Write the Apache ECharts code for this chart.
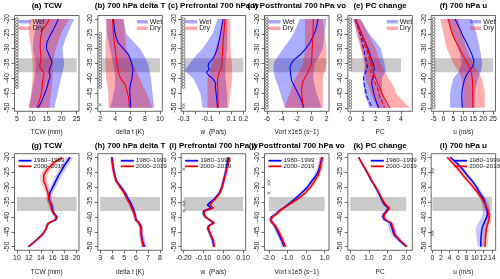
<!DOCTYPE html>
<html><head><meta charset="utf-8">
<script src="https://cdn.jsdelivr.net/npm/echarts@6/dist/echarts.min.js"></script>
<style>html,body{margin:0;padding:0;background:#fff}#c{width:500px;height:279px}</style>
</head><body><div id="c"></div>
<script>
// ---------- DATA ----------
const LAT  = [-20,-22,-24,-26,-28,-30,-32,-34,-35,-36,-37,-38,-39,-40,-41,-42,-43,-44,-46,-48,-50];
const LATB = [-20,-22.5,-25,-27.5,-30,-32.5,-35,-37.5,-40,-42.5,-45,-47.5,-50];
const GRAY_LAT = [-33.3, -38.0];
const yTicks = [-50,-45,-40,-35,-30,-25,-20];

// (a) TCW
const aWet   = [18.9,18.0,17.0,15.9,15.0,14.9,15.7,16.6,16.7,16.3,15.9,15.8,16.1,16.0,15.6,15.4,15.1,14.8,14.0,13.2,12.2];
const aDry   = [15.9,14.8,13.4,13.0,12.8,12.8,13.0,13.1,12.8,12.6,13.3,14.0,14.1,13.8,13.6,13.5,13.4,13.4,13.0,12.4,11.7];
const aWetLo = [12,11.4,10.9,10.5,10.3,10.8,11.4,11.2,10.9,10.4,10,9.5,9];
const aWetHi = [24.2,23.0,22.0,21.0,20.3,20.5,20.9,20.4,19.8,19.2,18.7,18.1,17.6];
const aDryLo = [9.2,9.1,9.0,9.4,9.8,10.0,10.3,10.3,10.3,10.0,9.8,9.4,9.0];
const aDryHi = [22.6,21.0,19.8,18.9,18.1,17.5,17.0,17.0,17.0,16.7,16.4,16.1,15.9];
// (b) delta T
const bWet   = [3.75,3.85,3.95,4.1,4.4,5.1,5.8,6.1,6.2,6.3,6.4,6.35,6.3,6.25,6.15,6.05,6.0,5.95,6.0,6.05,6.1];
const bDry   = [3.65,3.7,3.75,3.82,3.9,4.0,4.1,4.2,4.25,4.3,4.4,4.45,4.55,4.75,5.0,5.3,5.45,5.55,5.75,5.85,5.9];
const bWetLo = [2.8,2.85,2.9,3.1,3.3,3.5,3.76,3.9,4.0,4.0,3.8,3.6,3.3];
const bWetHi = [5.1,5.3,5.5,6.4,7.3,7.9,8.4,8.6,8.8,8.9,9.0,9.1,9.25];
const bDryLo = [2.8,2.8,2.8,2.75,2.7,2.7,2.7,2.75,2.8,2.95,3.1,3.1,3.1];
const bDryHi = [5.1,5.2,5.3,5.4,5.5,5.9,6.4,6.8,7.3,7.7,8.2,8.6,9.0];
// (c) prefrontal w
const cWet   = [0.03,0.022,0.013,0.005,-0.007,-0.018,-0.035,-0.065,-0.09,-0.095,-0.085,-0.11,-0.09,-0.06,-0.04,-0.03,-0.035,-0.03,-0.025,-0.02,-0.016];
const cDry   = [0.046,0.043,0.039,0.035,0.031,0.028,0.025,0.022,0.021,0.019,0.012,0.0,-0.008,-0.014,-0.016,-0.015,-0.014,-0.013,-0.012,-0.011,-0.01];
const cWetLo = [-0.016,-0.035,-0.057,-0.1,-0.14,-0.2,-0.25,-0.29,-0.22,-0.19,-0.16,-0.15,-0.14];
const cWetHi = [0.065,0.065,0.065,0.065,0.065,0.058,0.05,0.05,0.05,0.058,0.065,0.065,0.065];
const cDryLo = [0.024,0.017,0.01,-0.01,-0.03,-0.045,-0.057,-0.08,-0.1,-0.1,-0.1,-0.1,-0.1];
const cDryHi = [0.092,0.092,0.092,0.092,0.092,0.098,0.105,0.105,0.105,0.1,0.092,0.085,0.078];
// (d) postfrontal vort
const dWet   = [0.86,0.7,0.5,0.15,-0.22,-0.8,-1.5,-2.45,-2.7,-2.9,-2.9,-2.85,-2.8,-2.75,-2.65,-2.45,-2.25,-2.05,-1.65,-1.3,-1.1];
const dDry   = [0.2,0.2,0.2,0.17,0.12,0.07,0.04,0.0,-0.03,-0.15,-0.33,-0.5,-0.72,-0.95,-1.15,-1.25,-1.3,-1.35,-1.3,-1.2,-1.1];
const dWetLo = [-1.58,-2.0,-2.46,-3.1,-3.8,-4.5,-5.1,-5.1,-4.9,-4.5,-4.2,-3.9,-3.6];
const dWetHi = [1.96,1.85,1.74,1.6,1.5,1.0,0.4,0.3,0.2,0.4,0.64,1.0,1.3];
const dDryLo = [-0.9,-0.9,-0.9,-0.9,-0.9,-1.0,-1.13,-1.6,-2.2,-2.6,-2.9,-3.3,-3.6];
const dDryHi = [1.5,1.6,1.74,1.85,1.96,1.96,1.96,1.75,1.5,1.5,1.5,1.5,1.5];
// (e) PC change
const eWet    = [0.4,0.6,0.8,1.0,1.2,1.4,1.55,1.7,1.8,1.85,1.9,1.8,1.9,1.75,1.7,1.7,1.75,1.8,1.9,2.05,2.25];
const eWetAlt = [0.4,0.55,0.7,0.85,0.95,1.05,1.15,1.25,1.3,1.35,1.3,1.2,1.1,1.05,1.05,1.1,1.15,1.2,1.3,1.5,1.75];
const eDry    = [0.4,0.6,0.8,1.0,1.2,1.35,1.5,1.65,1.7,1.8,1.85,1.8,1.9,2.0,2.1,2.2,2.3,2.4,2.6,2.85,3.1];
const eDryAlt = [0.4,0.55,0.75,0.95,1.1,1.25,1.4,1.55,1.6,1.65,1.7,1.6,1.7,1.8,1.9,2.0,2.1,2.2,2.3,2.5,2.7];
const eWetLo = [0.2,0.4,0.6,0.75,0.9,1.05,1.2,1.1,1.0,1.05,1.1,1.3,1.5];
const eWetHi = [0.8,1.15,1.5,2.0,2.4,2.55,2.7,2.8,2.5,2.5,2.5,2.7,3.0];
const eDryLo = [0.3,0.4,0.5,0.65,0.8,0.95,1.1,1.15,1.2,1.4,1.6,1.85,2.1];
const eDryHi = [0.8,1.1,1.4,1.7,2.0,2.2,2.4,2.7,3.0,3.4,3.6,4.1,4.7];
// (f) 700 hPa u
const fWet   = [5.8,7.3,8.7,10.0,11.6,13.0,14.3,15.3,15.2,14.7,13.7,12.5,11.6,10.9,10.4,10.0,9.7,9.4,9.2,9.3,9.5];
const fDry   = [2.5,3.2,3.9,5.0,6.5,8.0,9.6,11.3,12.0,12.8,13.4,13.9,14.3,14.5,14.6,14.7,14.7,14.7,14.7,14.7,14.7];
const fWetLo = [1.7,3.0,4.2,5.8,7.5,8.4,9.2,8.0,5.0,4.0,3.3,3.3,3.3];
const fWetHi = [14.2,15.5,16.7,17.5,18.3,19.0,19.5,19.0,17.5,16.6,15.8,15.8,15.8];
const fDryLo = [-1.7,-0.8,0.0,0.8,1.7,3.3,5.0,7.5,9.2,9.7,10.0,9.6,9.2];
const fDryHi = [7.5,8.3,9.2,10.4,11.7,13.3,15.0,17.2,19.2,20.2,20.8,20.8,20.8];

// (g) TCW by period
const gP1   = [18.9,18.2,17.6,17.0,16.5,16.0,15.5,15.4,15.5,15.8,15.9,16.0,16.3,16.7,16.5,15.4,15.0,14.9,14.2,13.1,11.9];
const gP1Lo = [18.3,17.7,17.1,16.5,16.0,15.6,15.1,15.0,15.1,15.4,15.5,15.7,15.9,16.4,16.2,15.1,14.8,14.7,14.0,12.9,11.7];
const gP1Hi = [19.5,18.8,18.2,17.6,17.0,16.5,16.0,15.8,15.9,16.2,16.3,16.3,16.6,17.0,16.8,15.7,15.2,15.1,14.4,13.3,12.1];
const gP2   = [17.6,16.1,15.1,14.5,14.5,14.9,15.2,15.4,15.5,15.7,15.8,15.9,16.2,16.6,16.4,15.3,15.0,14.9,14.3,13.2,12.0];
const gP2Lo = [17.0,15.5,14.5,13.9,13.9,14.4,14.8,15.0,15.1,15.3,15.4,15.6,15.9,16.3,16.1,15.0,14.8,14.7,14.1,13.0,11.8];
const gP2Hi = [18.2,16.7,15.7,15.1,15.1,15.4,15.6,15.8,15.9,16.1,16.2,16.2,16.5,16.9,16.7,15.6,15.2,15.1,14.5,13.4,12.2];
// (h) delta T by period
const hP1   = [4.0,4.05,4.12,4.22,4.35,4.75,5.1,5.35,5.5,5.62,5.73,5.82,5.9,5.95,6.0,6.25,6.4,6.43,6.45,6.55,6.7];
const hP1Lo = [3.88,3.93,4.0,4.1,4.22,4.6,4.95,5.2,5.35,5.47,5.58,5.67,5.75,5.8,5.85,6.1,6.25,6.28,6.28,6.35,6.45];
const hP1Hi = [4.12,4.17,4.24,4.34,4.5,4.9,5.25,5.5,5.65,5.77,5.88,5.97,6.05,6.1,6.15,6.4,6.55,6.6,6.65,6.78,6.95];
const hP2   = [3.95,4.0,4.08,4.18,4.35,4.65,5.0,5.25,5.4,5.52,5.63,5.75,5.85,5.9,5.98,6.2,6.35,6.4,6.42,6.5,6.6];
const hP2Lo = [3.84,3.88,3.96,4.05,4.2,4.5,4.85,5.1,5.25,5.37,5.48,5.6,5.7,5.75,5.83,6.05,6.2,6.25,6.27,6.35,6.45];
const hP2Hi = [4.06,4.12,4.2,4.3,4.5,4.8,5.15,5.4,5.55,5.67,5.78,5.9,6.0,6.05,6.13,6.35,6.5,6.55,6.57,6.65,6.75];
// (i) prefrontal w by period
const iP1   = [0.024,0.02,0.015,0.008,0.0,-0.007,-0.02,-0.045,-0.065,-0.08,-0.062,-0.1,-0.1,-0.092,-0.07,-0.05,-0.075,-0.078,-0.065,-0.053,-0.048];
const iP1Lo = [0.016,0.012,0.007,0.0,-0.008,-0.015,-0.028,-0.053,-0.073,-0.088,-0.07,-0.108,-0.108,-0.1,-0.078,-0.058,-0.083,-0.086,-0.073,-0.061,-0.056];
const iP1Hi = [0.032,0.028,0.023,0.016,0.008,0.001,-0.012,-0.037,-0.057,-0.072,-0.054,-0.092,-0.092,-0.084,-0.062,-0.042,-0.067,-0.07,-0.057,-0.045,-0.04];
const iP2   = [0.03,0.025,0.018,0.01,0.002,-0.005,-0.017,-0.04,-0.055,-0.068,-0.05,-0.095,-0.097,-0.09,-0.068,-0.045,-0.072,-0.076,-0.063,-0.05,-0.045];
const iP2Lo = [0.022,0.017,0.01,0.002,-0.006,-0.013,-0.025,-0.048,-0.063,-0.076,-0.058,-0.103,-0.105,-0.098,-0.076,-0.053,-0.08,-0.084,-0.071,-0.058,-0.053];
const iP2Hi = [0.038,0.033,0.026,0.018,0.01,0.003,-0.009,-0.032,-0.047,-0.06,-0.042,-0.087,-0.089,-0.082,-0.06,-0.037,-0.064,-0.068,-0.055,-0.042,-0.037];
// (j) postfrontal vort by period
const jP1   = [0.85,0.78,0.7,0.55,0.3,0.08,-0.25,-0.6,-0.8,-1.0,-1.2,-1.45,-1.6,-1.85,-1.9,-1.8,-1.68,-1.6,-1.45,-1.3,-1.18];
const jP1Lo = [0.72,0.66,0.58,0.43,0.18,-0.04,-0.37,-0.72,-0.92,-1.12,-1.32,-1.57,-1.72,-1.97,-2.02,-1.92,-1.8,-1.72,-1.57,-1.42,-1.3];
const jP1Hi = [0.98,0.9,0.82,0.67,0.42,0.2,-0.13,-0.48,-0.68,-0.88,-1.08,-1.33,-1.48,-1.73,-1.78,-1.68,-1.56,-1.48,-1.33,-1.18,-1.06];
const jP2   = [0.88,0.8,0.75,0.65,0.45,0.25,-0.05,-0.45,-0.7,-0.95,-1.2,-1.42,-1.58,-1.8,-1.9,-1.82,-1.65,-1.55,-1.38,-1.25,-1.1];
const jP2Lo = [0.76,0.68,0.63,0.53,0.33,0.13,-0.17,-0.57,-0.82,-1.07,-1.32,-1.54,-1.7,-1.92,-2.02,-1.94,-1.77,-1.67,-1.5,-1.37,-1.22];
const jP2Hi = [1.0,0.92,0.87,0.77,0.57,0.37,0.07,-0.33,-0.58,-0.83,-1.08,-1.3,-1.46,-1.68,-1.78,-1.7,-1.53,-1.43,-1.26,-1.13,-0.98];
// (k) PC change by period
const kP1   = [0.45,0.62,0.8,0.98,1.15,1.35,1.52,1.67,1.75,1.85,2.05,1.95,1.8,1.75,1.85,2.15,2.2,2.25,2.35,2.65,3.0];
const kP1Lo = [0.42,0.58,0.75,0.92,1.09,1.28,1.45,1.6,1.67,1.76,1.95,1.84,1.69,1.63,1.72,2.0,2.03,2.07,2.2,2.55,2.93];
const kP1Hi = [0.48,0.66,0.85,1.04,1.21,1.42,1.59,1.74,1.83,1.94,2.15,2.06,1.91,1.87,1.98,2.3,2.37,2.43,2.5,2.75,3.07];
const kP2   = [0.45,0.63,0.82,1.0,1.17,1.37,1.55,1.7,1.8,1.92,2.1,2.0,1.85,1.8,1.9,2.2,2.25,2.3,2.4,2.7,3.05];
const kP2Lo = [0.42,0.59,0.77,0.94,1.11,1.3,1.48,1.62,1.71,1.82,2.0,1.9,1.75,1.7,1.8,2.1,2.15,2.2,2.3,2.6,2.97];
const kP2Hi = [0.48,0.67,0.87,1.06,1.23,1.44,1.62,1.78,1.89,2.02,2.2,2.1,1.95,1.9,2.0,2.3,2.35,2.4,2.5,2.8,3.13];
// (l) 700 hPa u by period
const lP1   = [4.2,5.8,7.1,8.2,9.4,10.4,11.2,12.1,12.3,12.5,12.7,12.9,13.0,12.8,12.5,12.2,11.9,11.65,11.5,11.4,11.4];
const lP1Lo = [3.8,5.3,6.6,7.7,8.9,9.9,10.7,11.5,11.6,11.7,11.8,11.9,11.9,11.6,11.2,10.8,10.5,10.2,10.3,10.5,10.7];
const lP1Hi = [4.6,6.3,7.6,8.7,9.9,10.9,11.7,12.7,13.0,13.3,13.5,13.7,13.8,13.7,13.5,13.3,13.1,12.9,12.6,12.2,12.1];
const lP2   = [3.5,4.8,6.1,7.2,8.4,9.6,10.7,11.7,12.1,12.5,12.8,13.1,13.3,13.4,13.3,13.1,12.9,12.7,12.55,12.45,12.4];
const lP2Lo = [3.1,4.3,5.6,6.7,7.9,9.1,10.2,11.2,11.6,12.0,12.3,12.6,12.7,12.8,12.7,12.5,12.3,12.1,11.9,11.8,11.7];
const lP2Hi = [3.9,5.3,6.6,7.7,8.9,10.1,11.2,12.2,12.6,13.0,13.3,13.6,13.9,14.0,13.9,13.7,13.5,13.3,13.2,13.1,13.1];

// significance markers (latitudes)
const sigAo = [-20,-21,-22,-23,-24,-25,-26,-27,-28,-29,-30,-31,-32,-33,-34,-35,-36,-37,-38,-39,-40,-41,-42,-43];
const sigBo = [-25,-26,-27,-28,-29,-30,-31,-32,-33,-34,-35,-36,-37,-38,-39,-40,-41,-42,-43];
const sigBx = [-49];
const sigCo = [-20,-21,-22,-23,-24,-25,-26,-27,-28,-29,-30,-31,-32,-33,-34,-35,-36,-37,-38,-39,-40,-41,-42,-43];
const sigCx = [-49,-50];
const sigDo = [-20,-21,-22,-23,-24,-25,-26,-27,-28,-29,-30,-31,-32,-33,-34,-35,-36,-37,-38,-39,-40,-41,-42,-43,-44,-45,-46,-47,-48,-49,-50];
const sigEo = [-20,-21,-22,-23,-24,-25,-26,-27,-28,-29,-30,-31,-32,-33,-34,-35,-36,-37,-41,-42,-43,-44,-45,-46,-47,-48,-49,-50];
const sigFo = [-20,-21,-22,-23,-24,-25,-26,-27,-28,-29,-30,-31,-32,-33,-34,-35,-36,-37,-38,-39,-40,-41,-42,-43,-44,-45,-46,-47,-48,-49,-50];
const sigIx = [-24,-35,-36,-38];
const sigJx = [-28,-29,-32];
const sigLx = [-24,-25,-45,-46];

// ---------- STYLE / LAYOUT ----------
const FONT = '"Liberation Sans", Arial, sans-serif';
const BLUE = '#0000ff', RED = '#ff0000';
const BAND_B = 'rgba(0,0,255,0.32)', BAND_R = 'rgba(255,0,0,0.32)';
const BAND_B2 = 'rgba(0,0,255,0.22)', BAND_R2 = 'rgba(255,0,0,0.22)';
const COLW = 500/6;

const panels = [
 {t:'(a) TCW', xl:'TCW (mm)', lim:[4.2,25.8], tk:[5,10,15,20,25], leg:'L',
  bands:[[LATB,aWetLo,aWetHi,BAND_B],[LATB,aDryLo,aDryHi,BAND_R]], lines:[[aWet,BLUE,'solid'],[aDry,RED,'solid']], so:sigAo, sx:[]},
 {t:'(b) 700 hPa delta T', xl:'delta t (K)', lim:[1.68,10.32], tk:[2,4,6,8,10], leg:'R',
  bands:[[LATB,bWetLo,bWetHi,BAND_B],[LATB,bDryLo,bDryHi,BAND_R]], lines:[[bWet,BLUE,'solid'],[bDry,RED,'solid']], so:sigBo, sx:sigBx},
 {t:'(c) Prefrontal 700 hPa w', xl:'w  (Pa/s)', lim:[-0.32,0.22], tk:[-0.3,-0.2,-0.1,0,0.1,0.2], lab:[-0.3,-0.1,0.1,0.2], fmt:v=>String(+v.toFixed(1)), leg:'L',
  bands:[[LATB,cWetLo,cWetHi,BAND_B],[LATB,cDryLo,cDryHi,BAND_R]], lines:[[cWet,BLUE,'solid'],[cDry,RED,'solid']], so:sigCo, sx:sigCx},
 {t:'(d) Postfrontal 700 hPa vo', xl:'Vort x1e5 (s\u22121)', lim:[-6.32,2.32], tk:[-6,-4,-2,0,2], leg:'L',
  bands:[[LATB,dWetLo,dWetHi,BAND_B],[LATB,dDryLo,dDryHi,BAND_R]], lines:[[dWet,BLUE,'solid'],[dDry,RED,'solid']], so:sigDo, sx:[]},
 {t:'(e) PC change', xl:'PC', lim:[-0.19,4.89], tk:[0,1,2,3,4], leg:'R',
  bands:[[LATB,eWetLo,eWetHi,BAND_B],[LATB,eDryLo,eDryHi,BAND_R]],
  lines:[[eWet,BLUE,'solid'],[eWetAlt,BLUE,'dashed'],[eDry,RED,'solid'],[eDryAlt,RED,'dashed']], so:sigEo, sx:[]},
 {t:'(f) 700 hPa u', xl:'u (m/s)', lim:[-6.2,26.2], tk:[-5,0,5,10,15,20,25], leg:'R',
  bands:[[LATB,fWetLo,fWetHi,BAND_B],[LATB,fDryLo,fDryHi,BAND_R]], lines:[[fWet,BLUE,'solid'],[fDry,RED,'solid']], so:sigFo, sx:[]},
 {t:'(g) TCW', xl:'TCW (mm)', lim:[9.6,20.4], tk:[10,12,14,16,18,20], leg:'L',
  bands:[[LAT,gP1Lo,gP1Hi,BAND_B2],[LAT,gP2Lo,gP2Hi,BAND_R2]], lines:[[gP1,BLUE,'solid'],[gP2,RED,'solid']], so:[], sx:[]},
 {t:'(h) 700 hPa delta T', xl:'delta t (K)', lim:[2.8,8.2], tk:[3,4,5,6,7,8], leg:'R',
  bands:[[LAT,hP1Lo,hP1Hi,BAND_B2],[LAT,hP2Lo,hP2Hi,BAND_R2]], lines:[[hP1,BLUE,'solid'],[hP2,RED,'solid']], so:[], sx:[]},
 {t:'(i) Prefrontal 700 hPa w', xl:'w  (Pa/s)', lim:[-0.213,0.113], tk:[-0.2,-0.1,0,0.1], fmt:v=>v.toFixed(2), leg:'L',
  bands:[[LAT,iP1Lo,iP1Hi,BAND_B2],[LAT,iP2Lo,iP2Hi,BAND_R2]], lines:[[iP1,BLUE,'solid'],[iP2,RED,'solid']], so:[], sx:sigIx},
 {t:'(j) Postfrontal 700 hPa vo', xl:'Vort x1e5 (s\u22121)', lim:[-2.23,1.23], tk:[-2,-1,0,1], fmt:v=>v.toFixed(1), leg:'L',
  bands:[[LAT,jP1Lo,jP1Hi,BAND_B2],[LAT,jP2Lo,jP2Hi,BAND_R2]], lines:[[jP1,BLUE,'solid'],[jP2,RED,'solid']], so:[], sx:sigJx},
 {t:'(k) PC change', xl:'PC', lim:[-0.13,3.33], tk:[0,1,2,3], fmt:v=>v.toFixed(1), leg:'R',
  bands:[[LAT,kP1Lo,kP1Hi,BAND_B2],[LAT,kP2Lo,kP2Hi,BAND_R2]], lines:[[kP1,BLUE,'solid'],[kP2,RED,'solid']], so:[], sx:[]},
 {t:'(l) 700 hPa u', xl:'u (m/s)', lim:[-0.3,14.9], tk:[0,2,4,6,8,10,12,14], leg:'R',
  bands:[[LAT,lP1Lo,lP1Hi,BAND_B2],[LAT,lP2Lo,lP2Hi,BAND_R2]], lines:[[lP1,BLUE,'solid'],[lP2,RED,'solid']], so:[], sx:sigLx},
];

function rect(k){
  const row = Math.floor(k/6), col = k%6;
  return row===0 ? {left:col*COLW+14.5, top:15.5, width:64.5, height:95.8}
                 : {left:col*COLW+14.5, top:153.7, width:64.5, height:96.6};
}

const grids=[], xAxes=[], yAxes=[], series=[], graphics=[];
panels.forEach((p,k)=>{
  const r = rect(k), row = Math.floor(k/6);
  grids.push({left:r.left, top:r.top, width:r.width, height:r.height, show:true,
    borderColor:'#444', borderWidth:0.8, backgroundColor:'transparent', containLabel:false});
  xAxes.push({type:'value', gridIndex:k, position:'bottom', min:p.lim[0], max:p.lim[1], splitLine:{show:false},
    axisLine:{show:false, onZero:false},
    axisTick:{show:true, length:3, lineStyle:{color:'#444', width:0.8}, customValues:p.tk},
    axisLabel:{fontSize:7, fontFamily:FONT, color:'#222', margin:4, customValues:p.lab||p.tk,
      formatter:p.fmt ? (v=>p.fmt(v)) : (v=>String(v))}});
  yAxes.push({type:'value', gridIndex:k, position:'left', min:-51.2, max:-18.8, splitLine:{show:false},
    axisLine:{show:false, onZero:false},
    axisTick:{show:true, length:3, lineStyle:{color:'#444', width:0.8}, customValues:yTicks},
    axisLabel:{fontSize:7, fontFamily:FONT, color:'#222', rotate:90, margin:4, customValues:yTicks}});
  // gray latitude band
  const t0 = p.tk[0], t1 = p.tk[p.tk.length-1];
  series.push({type:'custom', xAxisIndex:k, yAxisIndex:k, silent:true, z:1,
    data:[[t0,GRAY_LAT[0]],[t1,GRAY_LAT[1]]],
    renderItem:(params,api)=>{
      if(params.dataIndex!==0) return null;
      const a = api.coord([t0,GRAY_LAT[0]]), b = api.coord([t1,GRAY_LAT[1]]);
      return {type:'rect', shape:{x:a[0], y:a[1], width:b[0]-a[0], height:b[1]-a[1]},
        style:{fill:'rgba(150,150,150,0.5)'}};
    }});
  // bands
  p.bands.forEach(([lats,lo,hi,col])=>{
    series.push({type:'custom', xAxisIndex:k, yAxisIndex:k, silent:true, z:2,
      data:lats.map((la,i)=>[lo[i],la,hi[i]]),
      renderItem:(params,api)=>{
        if(params.dataIndex!==0) return null;
        const pts=[];
        for(let i=0;i<lats.length;i++) pts.push(api.coord([lo[i],lats[i]]));
        for(let i=lats.length-1;i>=0;i--) pts.push(api.coord([hi[i],lats[i]]));
        return {type:'polygon', shape:{points:pts}, style:{fill:col}};
      }});
  });
  // mean lines
  p.lines.forEach(([vals,col,dash])=>{
    series.push({type:'line', xAxisIndex:k, yAxisIndex:k, z:3, showSymbol:false, silent:true,
      data:LAT.map((la,i)=>[vals[i],la]),
      lineStyle:{color:col, width:row===0?1.1:1.5, type:dash}});
  });
  // significance markers
  if(p.so.length) series.push({type:'scatter', xAxisIndex:k, yAxisIndex:k, z:4, silent:true,
    data:p.so.map(la=>[t0,la]), symbol:'circle', symbolSize:2.8,
    itemStyle:{color:'#ffffff', borderColor:'#333', borderWidth:0.6, opacity:1}});
  if(p.sx.length) series.push({type:'scatter', xAxisIndex:k, yAxisIndex:k, z:4, silent:true,
    data:p.sx.map(la=>[t0,la]), symbol:'path://M0,0L10,10M10,0L0,10', symbolSize:3,
    itemStyle:{color:'none', borderColor:'#333', borderWidth:0.7}});
  // title
  const cx = r.left + r.width/2;
  graphics.push({type:'text', z:10, style:{text:p.t, x:cx, y:row===0?6:146, font:'bold 8px '+FONT,
    fill:'#000', textAlign:'center', textVerticalAlign:'middle'}});
  graphics.push({type:'text', z:10, style:{text:p.xl, x:cx, y:row===0?132:272, font:'6.5px '+FONT,
    fill:'#222', textAlign:'center', textVerticalAlign:'middle'}});
  // legend
  const names = row===0 ? ['Wet','Dry'] : ['1980\u20131999','2000\u20132019'];
  const cols = row===0 ? ['rgba(0,0,255,0.35)','rgba(255,0,0,0.35)'] : [BLUE,RED];
  const lw = row===0 ? 3.5 : 1.8;
  let lx0, lx1, tx;
  if(row===0){ if(p.leg==='L'){lx0=r.left+4; lx1=r.left+16; tx=r.left+18;} else {lx0=r.left+39; lx1=r.left+50; tx=r.left+52;} }
  else { if(p.leg==='L'){lx0=r.left+4; lx1=r.left+17; tx=r.left+19;} else {lx0=r.left+23; lx1=r.left+36; tx=r.left+38;} }
  names.forEach((nm,i)=>{
    const y = r.top + (row===0 ? 6.2 + i*6.6 : 7 + i*5.6);
    graphics.push({type:'line', z:10, shape:{x1:lx0,y1:y,x2:lx1,y2:y}, style:{stroke:cols[i], lineWidth:lw}});
    graphics.push({type:'text', z:10, style:{text:nm, x:tx, y:y, font:(row===0?'7px ':'6.2px ')+FONT,
      fill:'#222', textAlign:'left', textVerticalAlign:'middle'}});
  });
});

const chart = echarts.init(document.getElementById('c'), null, {renderer:'canvas'});
chart.setOption({animation:false, backgroundColor:'#fff', grid:grids, xAxis:xAxes, yAxis:yAxes, series:series, graphic:graphics});
</script></body></html>
